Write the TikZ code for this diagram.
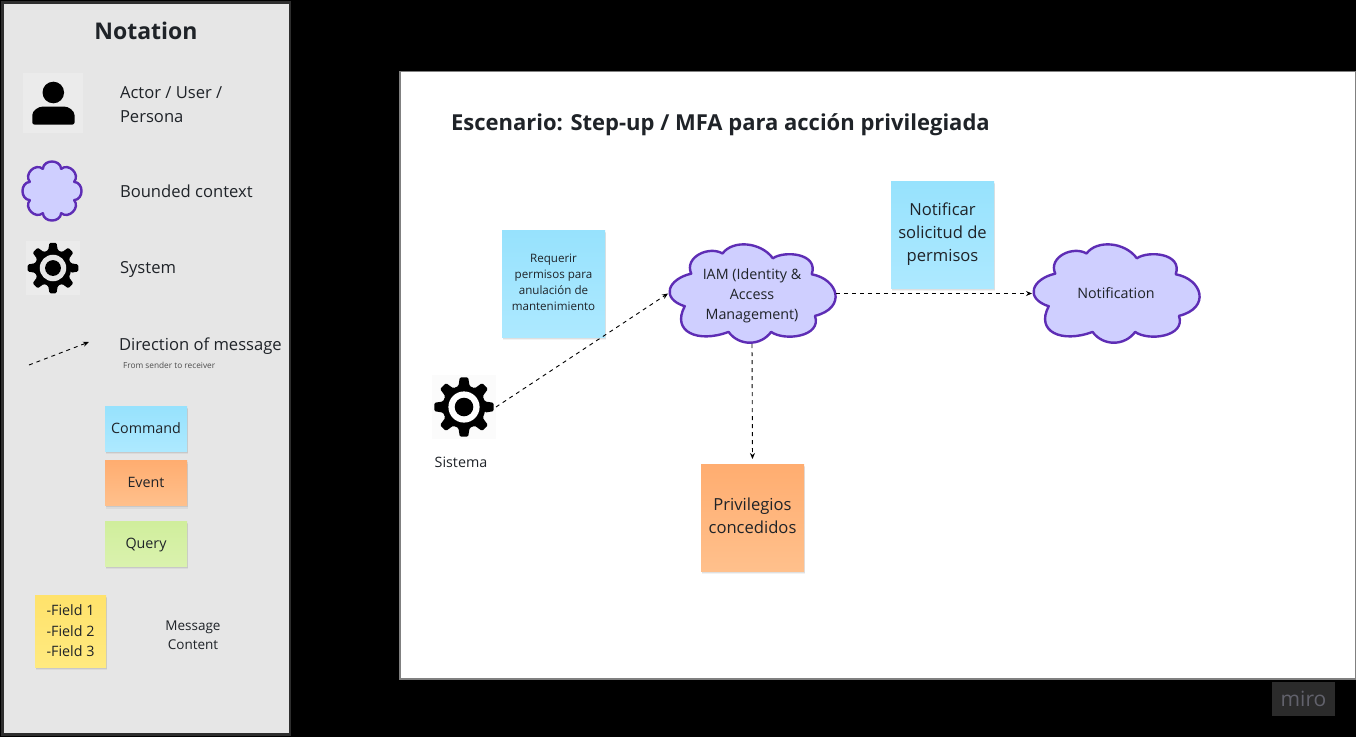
\documentclass[tikz,border=0pt]{standalone}
\usepackage{fontspec}
\setmainfont{Open Sans}
\usetikzlibrary{arrows.meta,shadows}
\definecolor{panelgrey}{HTML}{E6E6E6}
\definecolor{inkc}{HTML}{1F2328}
\definecolor{cloudfillc}{HTML}{CFCFFF}
\definecolor{cloudline}{HTML}{5E2DB5}
\newcommand\fs[2]{\fontsize{#1}{#2}\selectfont}
\newcommand\gearicon[4]{%
  \begin{scope}[shift={(#1,#2)},x=#3pt,y=#3pt]
    \fill[black,rounded corners=1.3pt] (-15:.72) \foreach \a in {0,45,...,315}{ -- (\a-15:.72) -- (\a-8:1) -- (\a+8:1) -- (\a+15:.72)} -- cycle;
    \fill[#4] (0,0) circle (.52);
    \fill[black] (0,0) circle (.31);
  \end{scope}}
\newcommand\cloudbig[2]{%
  \begin{scope}[shift={(#1,#2)},x=1.08pt,y=-.96pt]
    \path[cloudsh] (-56.3,-20.7) .. controls (-63,-38) and (-40,-50) .. (-27.3,-41.7)
      .. controls (-18,-56) and (8,-54) .. (19.3,-36.7)
      .. controls (30,-45) and (62,-42) .. (55.3,-20)
      .. controls (80,-15) and (88,15) .. (58.3,23.3)
      .. controls (65,45) and (30,50) .. (17.7,40)
      .. controls (8,55) and (-12,55) .. (-21.7,40)
      .. controls (-50,52) and (-75,40) .. (-62.3,13.3)
      .. controls (-85,5) and (-78,-15) .. (-56.3,-20.7) -- cycle;
  \end{scope}}
\tikzset{
  x=1pt,y=-1pt,
  cloudsh/.style={fill=cloudfillc,draw=cloudline,line width=2.4pt,line join=round},
  sticky/.style={inner sep=0pt,outer sep=0pt,align=center,text=inkc,
    drop shadow={shadow xshift=1pt,shadow yshift=-3pt,opacity=.05,fill=black},
    drop shadow={shadow xshift=.5pt,shadow yshift=-1.5pt,opacity=.08,fill=black}},
  cmd/.style={sticky,top color=cmdtop,bottom color=cmdbot},
  evt/.style={sticky,top color=evttop,bottom color=evtbot},
  qry/.style={sticky,top color=qrytop,bottom color=qrybot},
  fld/.style={sticky,top color=fldtop,bottom color=fldbot},
  txt/.style={inner sep=0pt,outer sep=0pt,text=inkc},
  lbl/.style={inner sep=0pt,outer sep=0pt,text=inkc,align=center},
  anchorbox/.style={inner sep=0pt,outer sep=0pt},
  msg/.style={draw=black,line width=.9pt,dash pattern=on 4pt off 4pt,-{Stealth[length=6pt,width=5pt]}},
}
\definecolor{cmdtop}{HTML}{97E2FD}\definecolor{cmdbot}{HTML}{ADE9FF}
\definecolor{evttop}{HTML}{FFAD70}\definecolor{evtbot}{HTML}{FFC08C}
\definecolor{qrytop}{HTML}{D0EE9C}\definecolor{qrybot}{HTML}{DAF2AE}
\definecolor{fldtop}{HTML}{FFE26B}\definecolor{fldbot}{HTML}{FFEA80}
\begin{document}
\begin{tikzpicture}
\useasboundingbox (0,0) rectangle (1356,737);
\fill[black] (0,0) rectangle (1356,737);
% legend panel
\path[fill=panelgrey,draw=black!82,line width=2.5pt] (2.5,2.5) rectangle (290,734.5);
\node[txt,font=\fs{23}{28}\bfseries] (nt) at (146,30.5) {Notation};
% actor
\fill[white!20!panelgrey] (23,73) rectangle (83,133);
\fill[black] (53.3,92.5) circle (10.8);
\fill[black,rounded corners=2pt] (32.3,124.5) -- (32.3,117) to[out=90,in=180] (45,106.5) -- (62,106.5) to[out=0,in=90] (74.5,117) -- (74.5,124.5) -- cycle;
\node[txt,anchor=west,align=left,font=\fs{16.6}{24}] (actor) at (120,105) {Actor / User /\\Persona};
% bounded context
\begin{scope}[shift={(52,191)}]
  \path[cloudsh] (22.5:24) \foreach \a in {22.5,67.5,...,337.5}{ .. controls (\a+8:33) and (\a+37:33) .. (\a+45:24)} -- cycle;
\end{scope}
\node[txt,anchor=west,font=\fs{16.6}{24}] (bc) at (120,191) {Bounded context};
% system
\fill[white!20!panelgrey] (26,241) rectangle (80,295);
\gearicon{53}{268}{25.5}{panelgrey}
\node[txt,anchor=west,font=\fs{16.6}{24}] (sysl) at (120,269.5) {System};
% direction
\coordinate (da) at (29,365);
\coordinate (db) at (89,342);
\draw[msg] (da) -- (db);
\node[txt,anchor=west,font=\fs{16.6}{24}] (dir) at (119,346) {Direction of message};
\node[txt,anchor=west,font=\fs{8.3}{10},text=black!70] (dirs) at (123,365) {From sender to receiver};
% stickies legend
\node[cmd,minimum width=82pt,minimum height=45pt,font=\fs{14.3}{20}] (lc) at (146,428.5) {Command};
\node[evt,minimum width=82pt,minimum height=45pt,label={[lbl,font=\fs{14.3}{20},yshift=1pt]center:Event}] (le) at (146,483) {};
\node[qry,minimum width=82pt,minimum height=45pt,label={[lbl,font=\fs{14.3}{20},yshift=-2pt]center:Query}] (lq) at (146,543.5) {};
\node[fld,minimum width=71pt,minimum height=72pt,font=\fs{14.3}{20.5}] (lf) at (70.5,631) {-Field 1\\-Field 2\\-Field 3};
\node[txt,align=center,font=\fs{13.5}{19}] (mc) at (193,635) {Message\\Content};
% board
\path[fill=white,draw=black!50,line width=1.5pt] (400,71.5) rectangle (1355.5,679);
\node[txt,anchor=west,font=\fs{22}{28}\bfseries] (title) at (451,124.5) {Escenario: Step-up / MFA para acción privilegiada};
% system icon
\fill[black!1.5] (432,375) rectangle (496,439);
\gearicon{464}{407}{30}{white}
\node[anchorbox,minimum size=64pt] (sys) at (464,407) {};
\node[txt,font=\fs{14.3}{20}] (sysn) at (461,462) {Sistema};
% clouds
\cloudbig{752}{293.5}
\node[anchorbox,minimum width=168pt,minimum height=101pt,label={[lbl,font=\fs{14.3}{20},yshift=-2pt]center:{IAM (Identity \&\\Access\\Management)}}] (iam) at (752,293.5) {};
\cloudbig{1116}{293.5}
\node[anchorbox,minimum width=168pt,minimum height=101pt,align=center,font=\fs{14.3}{20},text=inkc] (notif) at (1116,293.5) {Notification};
% stickies
\node[cmd,minimum width=103pt,minimum height=107pt,label={[lbl,font=\fs{11.6}{16},yshift=1pt]center:{Requerir\\permisos para\\anulación de\\mantenimiento}}] (req) at (553.5,283.5) {};
\node[cmd,minimum width=103pt,minimum height=107pt,font=\fs{16.6}{23}] (nsp) at (942.5,234.5) {Notificar\\solicitud de\\permisos};
\node[evt,minimum width=103pt,minimum height=107pt,label={[lbl,font=\fs{16.6}{23},yshift=2pt]center:{Privilegios\\concedidos}}] (priv) at (752.5,517.5) {};
% connectors
\draw[msg] (sys.east) -- (iam.west);
\draw[msg] (iam.east) -- (notif.west);
\draw[msg,shorten >=5pt] (iam.south) -- (priv.north);
% miro
\node[fill=black!83,inner sep=0pt,minimum width=63pt,minimum height=34pt,font=\fs{21}{24}] (miro) at (1303.5,699) {\textcolor[HTML]{62626C}{miro}};
\end{tikzpicture}
\end{document}
